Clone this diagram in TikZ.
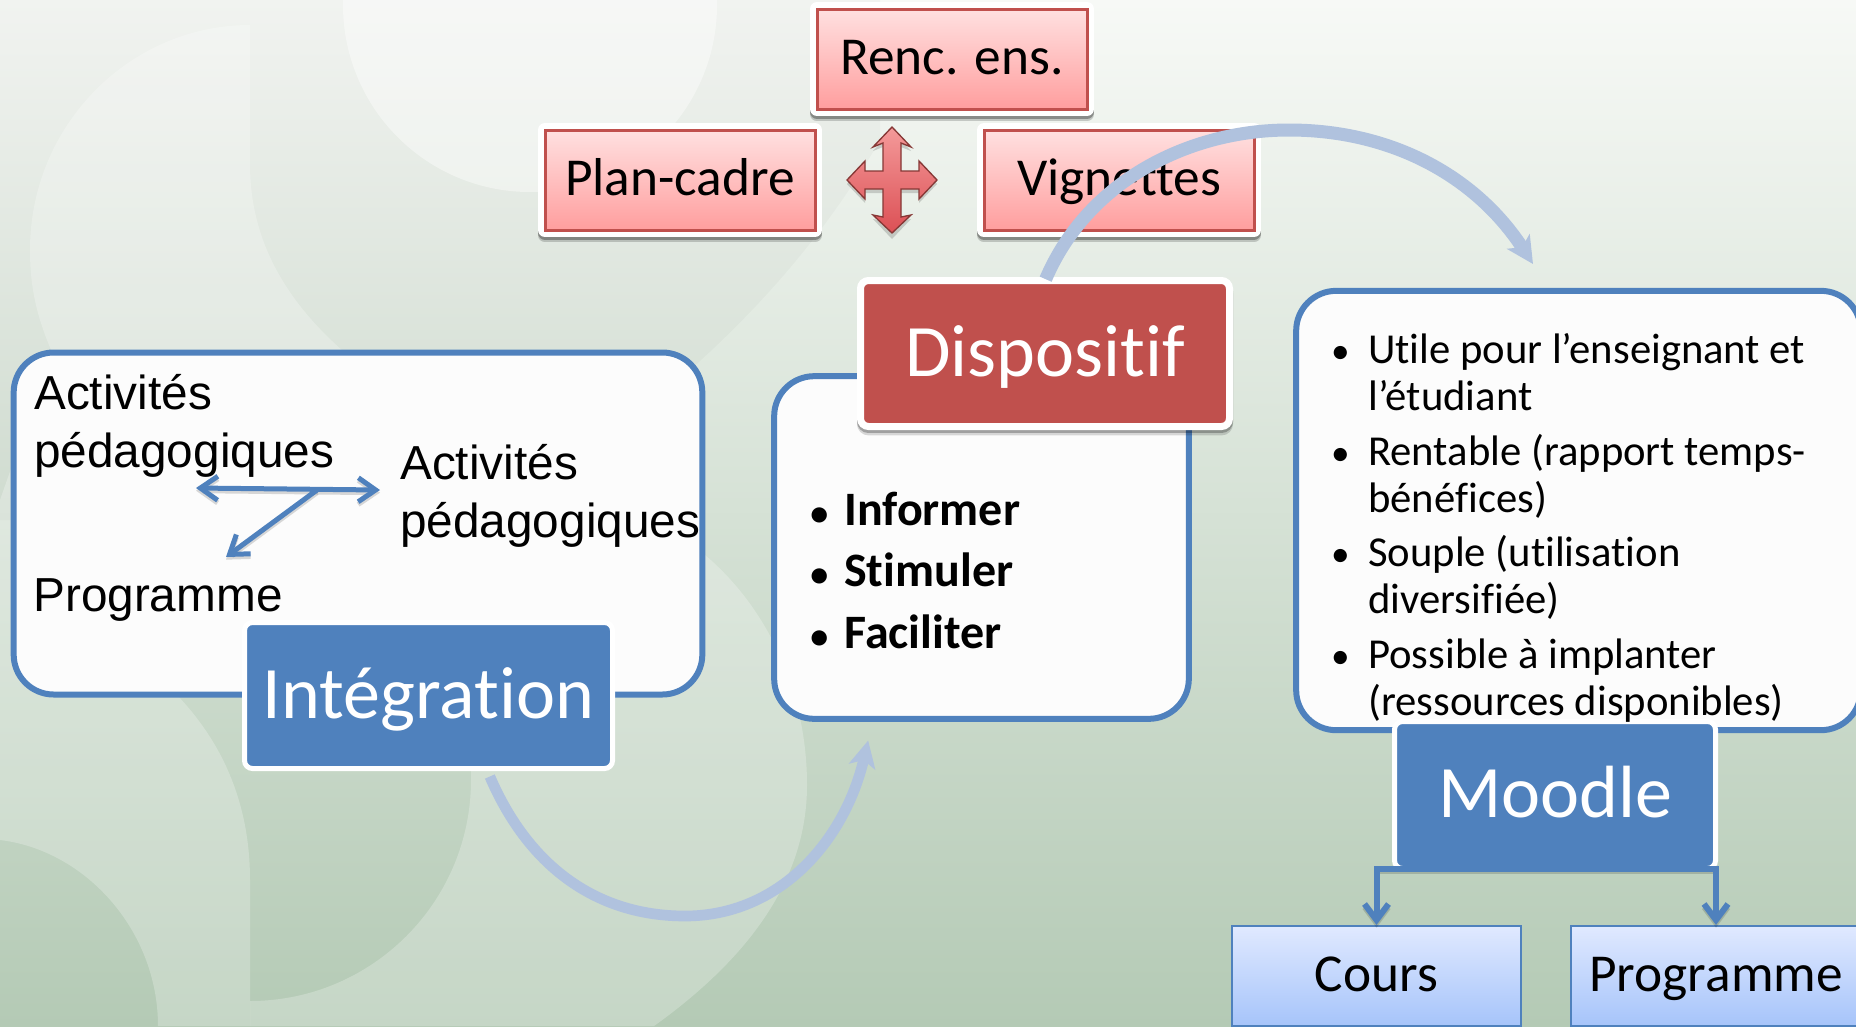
\documentclass[tikz,border=0pt]{standalone}
\usepackage{fontspec}
\setmainfont{Carlito}[Ligatures=NoCommon]
\newfontfamily\arialfont{Liberation Sans}
\usepackage{xcolor}
\usepackage{tikz}
\usetikzlibrary{arrows.meta}

\definecolor{bandblue}{HTML}{4F81BD}
\definecolor{bandred}{HTML}{C0504D}
\definecolor{arcblue}{HTML}{B0C2DE}

\tikzset{
  soft/.style={fill=white,fill opacity=#1,draw=none},
  panel/.style={rectangle,draw=bandblue,line width=4.5pt,fill=white!99!black,rounded corners=30pt,inner sep=0pt},
  redbox/.style={rectangle,draw=bandred,line width=2.25pt,top color=red!12!white,bottom color=red!38!white,
    minimum width=202.5pt,minimum height=75pt,inner sep=0pt,text height=26.5pt,text depth=4pt,font=\fontsize{40}{48}\selectfont,
    preaction={draw=black,draw opacity=.18,line width=10.5pt,line join=round,transform canvas={yshift=-4pt}},
    preaction={draw=black,draw opacity=.3,line width=10.5pt,line join=round,transform canvas={yshift=-2.2pt}},
    preaction={draw=white,line width=10.5pt,line join=round}},
  title/.style={rectangle,draw=white,line width=3.75pt,rounded corners=6pt,text=white,outer sep=0pt,inner sep=0pt,
    text height=40pt,text depth=6pt,font=\fontsize{55.5}{66}\selectfont},
  bluebox/.style={rectangle,draw=bandblue,line width=1.5pt,top color={rgb,255:red,224;green,233;blue,255},bottom color={rgb,255:red,166;green,196;blue,250},
    minimum width=217pt,minimum height=75pt,inner sep=0pt,text height=26.5pt,text depth=4pt,font=\fontsize{40}{48}\selectfont},
  arial/.style={anchor=base west,inner sep=0pt,align=left,font=\arialfont\fontsize{35.8}{43}\selectfont},
  linkshadow/.style={preaction={draw=black,draw opacity=.15,line width=3.75pt,transform canvas={yshift=-2pt}}},
  thinlink/.style={draw=bandblue,line width=3.75pt,linkshadow,{Straight Barb[length=13pt,width=18pt]}-{Straight Barb[length=13pt,width=18pt]}},
  slantlink/.style={draw=bandblue,line width=3.75pt,linkshadow,-{Straight Barb[length=13pt,width=18pt]}},
  downlink/.style={draw=bandblue,line width=4.5pt,linkshadow,-{Straight Barb[length=12pt,width=18pt]}},
  bigarc/.style={draw=arcblue,-{Stealth[length=20pt,width=20pt,inset=5pt]}}
}

\newcommand{\midbullet}{\llap{{\fontsize{27}{27}\selectfont\textbullet}\hspace{12pt}}}
\newcommand{\sidebullet}{\llap{{\fontsize{28}{28}\selectfont\textbullet}\hspace{14pt}}}

\begin{document}
\begin{tikzpicture}[x=0.75pt,y=0.75pt,yscale=-1,xscale=1]
\clip (0,0) rectangle (1856,1026);

%Background
\shade [top color={rgb,255:red,247;green,249;blue,246},bottom color={rgb,255:red,180;green,202;blue,181}] (0,0) rectangle (1856,1026);
\fill [black,fill opacity=.025] (0,0) -- (880,0) -- (880,140) .. controls (840,210) and (780,290) .. (690,370) -- (690,520) -- (0,520) -- cycle;
\fill [soft=.4] (530,5) circle (187);
\fill [soft=.24] (250,25) .. controls (130,25) and (30,125) .. (30,250) .. controls (30,290) and (38,320) .. (52,352) -- (0,500) -- (0,840) .. controls (85,850) and (158,930) .. (158,1026) -- (250,1026) -- (250,880) .. controls (250,800) and (220,740) .. (177,695) -- (344,352) .. controls (285,300) and (250,240) .. (250,164) -- cycle;
\fill [soft=.24] (250,1026) -- (250,1001) .. controls (372,1001) and (471,902) .. (471,780) -- (471,600) -- (705,555) .. controls (770,610) and (807,695) .. (807,785) .. controls (807,870) and (760,950) .. (654,1026) -- cycle;

%Red boxes
\draw (952,59) node [redbox] (renc) {Renc. ens.};
\draw (680,180) node [redbox] (plan) {Plan-cadre};
\draw (1119,180) node [redbox] (vign) {Vignettes};

%Shape: Four way arrow
\begin{scope}[shift={(892,180)}]
\fill [black,fill opacity=.16] (0,-49) -- (19,-29) -- (9,-33) -- (9,-5) -- (27,-5) -- (27,-15) -- (45,4) -- (27,23) -- (27,13) -- (9,13) -- (9,41) -- (19,39) -- (0,59) -- (-19,39) -- (-9,41) -- (-9,13) -- (-27,13) -- (-27,23) -- (-45,4) -- (-27,-15) -- (-27,-5) -- (-9,-5) -- (-9,-33) -- (-19,-29) -- cycle;
\draw [draw=bandred!70!black,line width=1pt,top color={rgb,255:red,244;green,154;blue,154},bottom color={rgb,255:red,220;green,80;blue,85}] (0,-53) -- (19,-33) -- (9,-37) -- (9,-9) -- (27,-9) -- (27,-19) -- (45,0) -- (27,19) -- (27,9) -- (9,9) -- (9,37) -- (19,35) -- (0,53) -- (-19,35) -- (-9,37) -- (-9,9) -- (-27,9) -- (-27,19) -- (-45,0) -- (-27,-19) -- (-27,-9) -- (-9,-9) -- (-9,-37) -- (-19,-33) -- cycle;
\end{scope}

%Panels
\draw (358,523.5) node [panel,minimum width=516.5pt,minimum height=256.5pt] (leftpanel) {};
\draw (981.5,547.5) node [panel,minimum width=311pt,minimum height=257pt] (midpanel) {};
\draw (1578.5,510.5) node [panel,minimum width=423.5pt,minimum height=329.5pt] (rightpanel) {};

%Title boxes
\draw (428.5,695.5) node [title,fill=bandblue,minimum width=276pt,minimum height=109.5pt] (integration) {Intégration};
\draw (1045,353.5) node [title,fill=bandred,line width=5.25pt,minimum width=276.75pt,minimum height=109.5pt,
  preaction={draw=black,draw opacity=.15,line width=5.25pt,transform canvas={yshift=-4pt}},
  preaction={draw=black,draw opacity=.25,line width=5.25pt,transform canvas={yshift=-2.2pt}}] (dispositif) {Dispositif};
\draw (1555,795) node [title,fill=bandblue,minimum width=240.75pt,minimum height=110.25pt] (moodle) {Moodle};

%Blue boxes
\draw (1376.5,976) node [bluebox] (cours) {Cours};
\draw (1716,976) node [bluebox] (programme) {Programme};

% Text Node
\draw (34,467) node [arial] (activiteA) {Activités\\pédagogiques};
% Text Node
\draw (400,537) node [arial] (activiteB) {Activités\\pédagogiques};
% Text Node
\draw (33,611) node [arial] (progtext) {Programme};

% Text Node
\draw (844,648) node [anchor=base west,inner sep=0pt,align=left,font=\fontsize{36}{46}\selectfont\bfseries] (actions)
  {\midbullet Informer\\\midbullet Stimuler\\\midbullet Faciliter};
% Text Node
\draw (1368,715) node [anchor=base west,inner sep=0pt,align=left,font=\fontsize{32}{35.25}\selectfont] (qualites)
  {\sidebullet Utile pour l’enseignant et\\l’étudiant\\[5.6pt]
   \sidebullet Rentable (rapport temps-\\bénéfices)\\[5.6pt]
   \sidebullet Souple (utilisation\\diversifiée)\\[5.6pt]
   \sidebullet Possible à implanter\\(ressources disponibles)};

%Straight Lines
\coordinate (tipleft) at (196,488);
\coordinate (tipright) at (380,490);
\coordinate (junction) at (317,490);
\coordinate (tipdown) at (226,557);
\draw [thinlink] (tipleft) -- (tipright);
\draw [slantlink] (junction) -- (tipdown);

%Elbow connectors
\draw [downlink] (moodle.south) -| (cours.north);
\draw [downlink] (moodle.south) -| (programme.north);

%Curve Lines
\draw [bigarc,line width=8pt] ([xshift=46pt,yshift=6pt]integration.south) .. controls (530,870) and (600,916) .. (685,916) .. controls (780,916) and (845,840) .. ([xshift=-85pt,yshift=14pt]midpanel.south);
\coordinate (arcend) at (1533,264);
\draw [bigarc,line width=9.75pt] ([xshift=0.5pt,yshift=-1pt]dispositif.north) .. controls (1088,180) and (1190,130) .. (1289,130) .. controls (1390,130) and (1475,175) .. (arcend);
\end{tikzpicture}
\end{document}
